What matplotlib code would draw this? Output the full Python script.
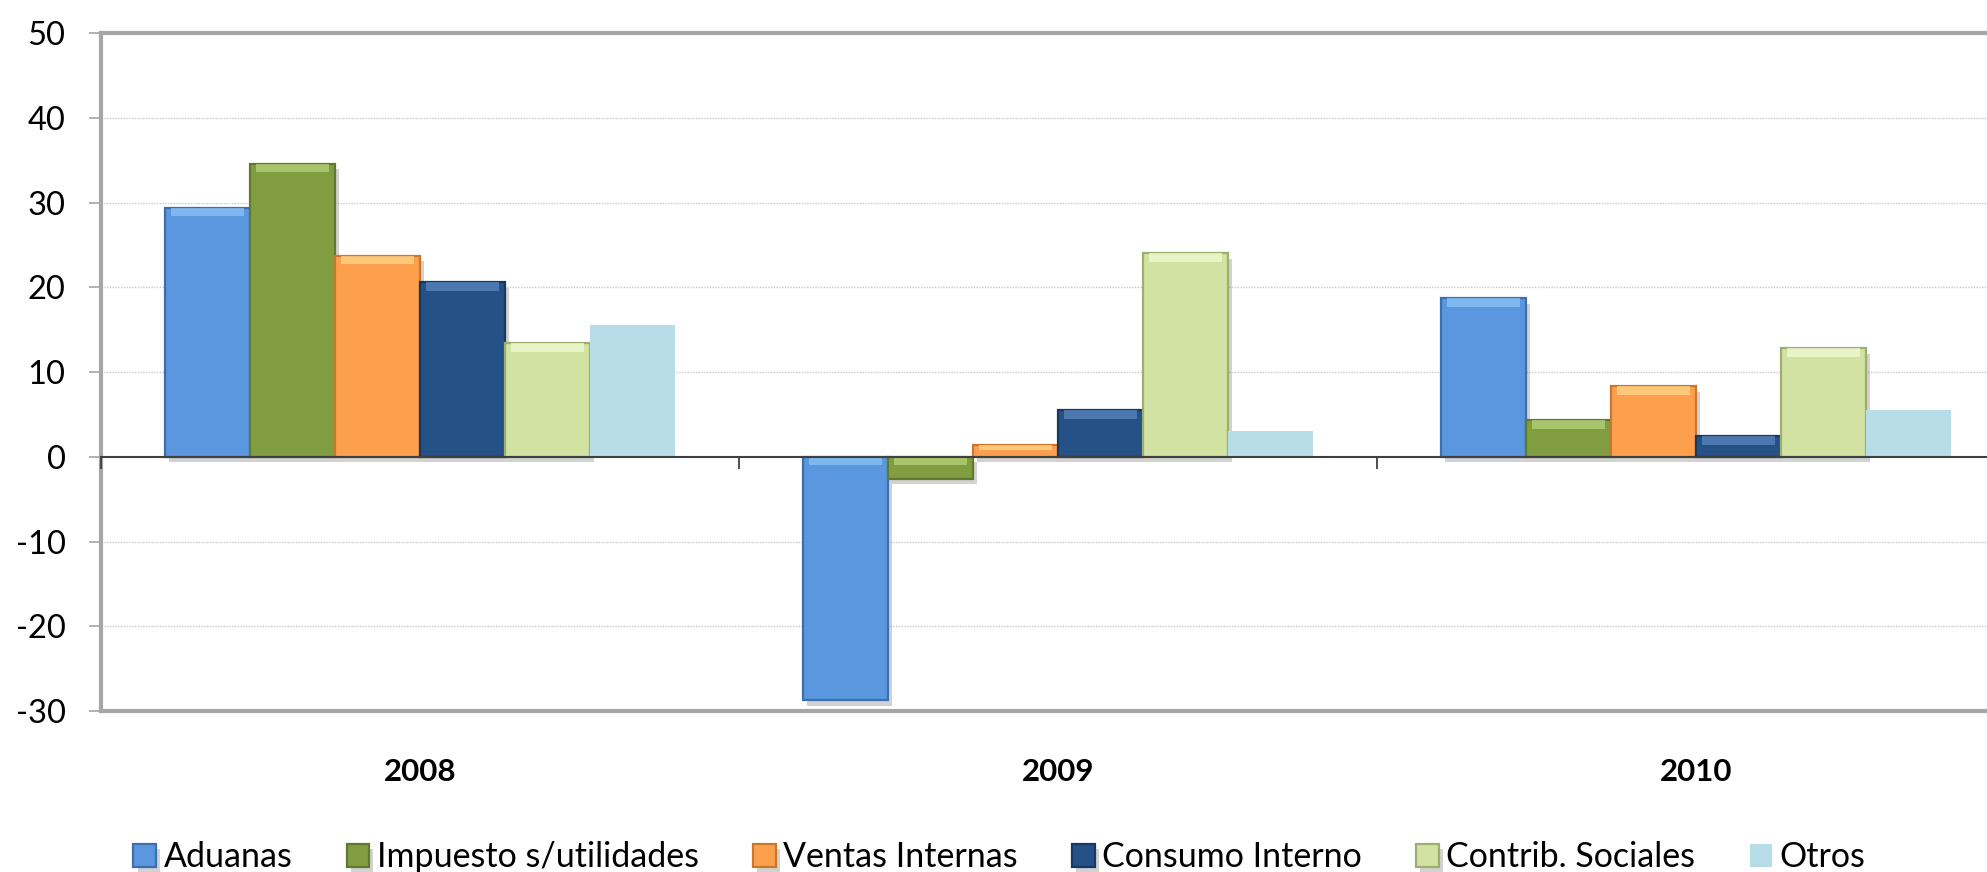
import matplotlib
matplotlib.use("Agg")
import matplotlib.pyplot as plt
import matplotlib.patheffects as pe
import numpy as np

plt.rcParams['font.family'] = ['Lato', 'DejaVu Sans']

years = ["2008", "2009", "2010"]
series = ["Aduanas", "Impuesto s/utilidades", "Ventas Internas",
          "Consumo Interno", "Contrib. Sociales", "Otros"]
aduanas = [29.4, -28.7, 18.7]
impuesto = [34.6, -2.6, 4.3]
ventas = [23.7, 1.4, 8.3]
consumo = [20.6, 5.5, 2.4]
contrib = [13.4, 24.0, 12.8]
otros = [15.5, 3.0, 5.5]
values = [aduanas, impuesto, ventas, consumo, contrib, otros]

face = ["#5B97DE", "#819D42", "#FCA04E", "#255186", "#D1E2A3", "#B7DDE8"]
edge = ["#3F6EAE", "#5E7A2D", "#C9772F", "#173860", "#9CAF6E", None]
light = ["#8CC4F5", "#B5D57A", "#FFD58A", "#5A86BF", "#F2F9D5", None]
yticks = [-30, -20, -10, 0, 10, 20, 30, 40, 50]

W, H = 1987, 872
fig = plt.figure(figsize=(W / 100, H / 100), dpi=100)
ax = fig.add_axes([101 / W, 1 - 711 / H, 1914 / W, 678 / H])
ax.set_xlim(0, 3)
ax.set_ylim(-30, 50)

x = np.arange(len(years)) + 0.5
w = 0.8 / len(series)
for j, (name, vals) in enumerate(zip(series, values)):
    xs = x + (j - (len(series) - 1) / 2) * w
    vals = np.array(vals)
    if edge[j] is None:
        ax.bar(xs, vals, w, color=face[j], label=name, zorder=3, linewidth=0)
    else:
        bars = ax.bar(xs, vals, w, color=face[j], edgecolor=edge[j], linewidth=1.6,
                      label=name, zorder=3)
        for b in bars:
            b.set_path_effects([pe.SimplePatchShadow(offset=(3, -4), shadow_rgbFace='#808080', alpha=0.35),
                                pe.Normal()])
        # top bevel highlight
        top = np.maximum(vals, 0)
        hh = np.minimum(1.0, np.abs(vals) * 0.45)
        ax.bar(xs, hh, w * 0.86, bottom=top - hh, color=light[j], linewidth=0,
               alpha=0.75, zorder=4)

# grid
for t in [-20, -10, 10, 20, 30, 40]:
    ax.axhline(t, color="#C8C8C8", linewidth=1.0, linestyle=(0, (1, 1)), zorder=1)

for s in ["left", "bottom", "top"]:
    ax.spines[s].set_color("#A6A6A6")
    ax.spines[s].set_linewidth(3.0)
ax.spines["right"].set_visible(False)

ax.set_yticks(yticks)
ax.set_yticklabels([str(t) for t in yticks], fontsize=23.5)
ax.tick_params(axis='y', direction='out', length=8.5, width=1.2, color="#A6A6A6", pad=17)

ax.set_xticks(x)
ax.set_xticklabels(years, fontsize=22.5, fontweight='bold')
ax.tick_params(axis='x', length=0, pad=34)

# zero axis with category ticks
sec = ax.secondary_xaxis(30 / 80)
sec.set_xticks([0, 1, 2, 3])
sec.set_xticklabels([])
sec.tick_params(axis='x', direction='out', length=8.5, width=1.3, color="#404040")
sec.spines['bottom'].set_color("#404040")
sec.spines['bottom'].set_linewidth(1.5)
sec.set_zorder(5)

handles, labels = ax.get_legend_handles_labels()
leg = fig.legend(handles, labels, loc='center', bbox_to_anchor=(0.503, 0.017), ncol=6,
                 frameon=False, fontsize=24.5, handlelength=0.66, handleheight=0.66,
                 handletextpad=0.22, columnspacing=1.6)

fig.savefig("out.png", dpi=100)
